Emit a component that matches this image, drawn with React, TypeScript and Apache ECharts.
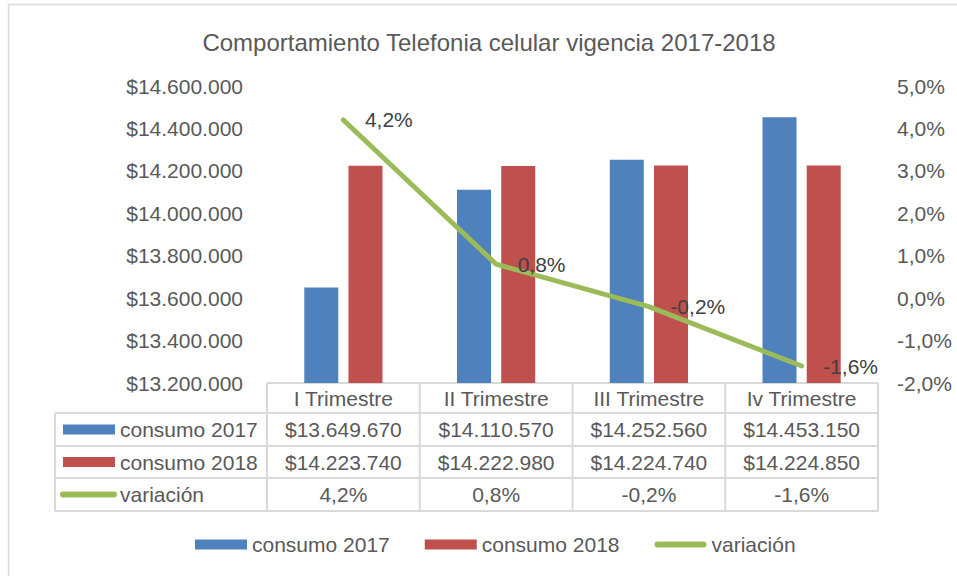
import React, { useEffect, useRef } from "react";
import * as echarts from "echarts";

const titleText = "Comportamiento Telefonia celular vigencia 2017-2018";
const categories = ["I Trimestre", "II Trimestre", "III Trimestre", "Iv Trimestre"];
const consumo2017 = [13649670, 14110570, 14252560, 14453150];
const consumo2018 = [14223740, 14222980, 14224740, 14224850];
const variacion = [4.2, 0.8, -0.2, -1.6];
const seriesNames = ["consumo 2017", "consumo 2018", "variación"];
const leftAxis = { min: 13200000, max: 14600000, interval: 200000 };
const rightAxis = { min: -2, max: 5, interval: 1 };

const BLUE = "#4F81BD";
const RED = "#C0504D";
const GREEN = "#9BBB59";
const TEXT = "#595959";
const LINE = "#d9d9d9";
const FONT = "'Liberation Sans', Arial, sans-serif";

const money = (n: number) => "$" + String(Math.round(n)).replace(/\B(?=(\d{3})+(?!\d))/g, ".");
const pct = (v: number) => v.toFixed(1).replace(".", ",") + "%";

export default function App() {
  const ref = useRef<HTMLDivElement>(null);
  useEffect(() => {
    if (!ref.current) return;
    const chart = echarts.init(ref.current, undefined, { renderer: "svg" });
    const gridLeft = 267;
    const gridRight = 79;
    const gridTop = 86;
    const gridBottom = 193;
    chart.setOption({
      animation: false,
      textStyle: { fontFamily: FONT },
      grid: { left: gridLeft, right: gridRight, top: gridTop, bottom: gridBottom, containLabel: false },
      legend: {
        left: 190,
        top: 529,
        itemWidth: 52,
        itemHeight: 10,
        itemGap: 35,
        textStyle: { fontSize: 21, color: TEXT, fontFamily: FONT },
        data: [
          { name: seriesNames[0], icon: "rect" },
          { name: seriesNames[1], icon: "rect" },
          { name: seriesNames[2], icon: "path://M3,0 L49,0 A3,3 0 0 1 49,6 L3,6 A3,3 0 0 1 3,0 Z" },
        ],
      },
      xAxis: {
        type: "category",
        data: categories,
        axisLine: { show: false },
        axisTick: { show: false },
        axisLabel: { show: false },
      },
      yAxis: [
        {
          type: "value",
          min: leftAxis.min,
          max: leftAxis.max,
          interval: leftAxis.interval,
          axisLine: { show: false },
          axisTick: { show: false },
          splitLine: { show: false },
          axisLabel: { formatter: (v: number) => money(v), fontSize: 21, color: TEXT, margin: 24, fontFamily: FONT },
        },
        {
          type: "value",
          min: rightAxis.min,
          max: rightAxis.max,
          interval: rightAxis.interval,
          axisLine: { show: false },
          axisTick: { show: false },
          splitLine: { show: false },
          axisLabel: { formatter: (v: number) => pct(v), fontSize: 21, color: TEXT, margin: 19, fontFamily: FONT },
        },
      ],
      series: [
        {
          name: seriesNames[0],
          type: "bar",
          data: consumo2017,
          barWidth: 34,
          barGap: "30%",
          itemStyle: { color: BLUE },
        },
        {
          name: seriesNames[1],
          type: "bar",
          data: consumo2018,
          barWidth: 34,
          barGap: "30%",
          itemStyle: { color: RED },
        },
        {
          name: seriesNames[2],
          type: "line",
          yAxisIndex: 1,
          data: variacion,
          symbol: "circle",
          symbolSize: 1,
          showSymbol: true,
          z: 5,
          lineStyle: { color: GREEN, width: 5, cap: "round", join: "round" },
          itemStyle: { color: GREEN },
          label: {
            show: true,
            position: "right",
            distance: 21,
            formatter: (p: any) => pct(p.value),
            fontSize: 21,
            color: "#404040",
            fontFamily: FONT,
          },
        },
      ],
    });

    // Build data table from axis geometry
    const centers = categories.map((c) => chart.convertToPixel({ xAxisIndex: 0 }, c) as number);
    const step = centers.length > 1 ? centers[1] - centers[0] : 150;
    const bounds = [centers[0] - step / 2, ...centers.map((c) => c + step / 2)];
    const axisY = chart.convertToPixel({ yAxisIndex: 0 }, leftAxis.min) as number;
    const rowLines = [axisY, axisY + 30, axisY + 63, axisY + 95, axisY + 128];
    const tableLeft = 55;
    const g: any[] = [];
    g.push({
      type: "rect",
      silent: true,
      z: -10,
      shape: { x: 8.5, y: 4.5, width: 1200, height: 1200 },
      style: { fill: "none", stroke: LINE, lineWidth: 1.5 },
    });
    g.push({
      type: "text",
      x: 489,
      y: 42,
      style: { text: titleText, fill: TEXT, font: `24px ${FONT}`, textAlign: "center", textVerticalAlign: "middle" },
    });
    const ln = (x1: number, y1: number, x2: number, y2: number) =>
      g.push({ type: "line", silent: true, shape: { x1, y1, x2, y2 }, style: { stroke: LINE, lineWidth: 2 } });
    ln(bounds[0], rowLines[0], bounds[bounds.length - 1], rowLines[0]);
    for (let i = 1; i < rowLines.length; i++) ln(tableLeft, rowLines[i], bounds[bounds.length - 1], rowLines[i]);
    ln(tableLeft, rowLines[1], tableLeft, rowLines[4]);
    bounds.forEach((b) => ln(b, rowLines[0], b, rowLines[4]));
    const txt = (s: string, x: number, y: number, align = "center") =>
      g.push({
        type: "text",
        x,
        y,
        style: { text: s, fill: TEXT, font: `21px ${FONT}`, textAlign: align, textVerticalAlign: "middle" },
      });
    const mid = (i: number) => (rowLines[i] + rowLines[i + 1]) / 2;
    categories.forEach((c, i) => txt(c, centers[i], mid(0)));
    consumo2017.forEach((v, i) => txt(money(v), centers[i], mid(1)));
    consumo2018.forEach((v, i) => txt(money(v), centers[i], mid(2)));
    variacion.forEach((v, i) => txt(pct(v), centers[i], mid(3)));
    g.push({ type: "rect", shape: { x: 63, y: mid(1) - 5, width: 52, height: 10 }, style: { fill: BLUE } });
    g.push({ type: "rect", shape: { x: 63, y: mid(2) - 5, width: 52, height: 10 }, style: { fill: RED } });
    g.push({
      type: "line",
      shape: { x1: 63, y1: mid(3), x2: 114, y2: mid(3) },
      style: { stroke: GREEN, lineWidth: 6, lineCap: "round" },
    });
    txt(seriesNames[0], 120, mid(1), "left");
    txt(seriesNames[1], 120, mid(2), "left");
    txt(seriesNames[2], 120, mid(3), "left");
    chart.setOption({ graphic: g });

    return () => chart.dispose();
  }, []);
  return <div ref={ref} style={{ position: "fixed", left: 0, top: 0, width: 957, height: 576, background: "#fff" }} />;
}
